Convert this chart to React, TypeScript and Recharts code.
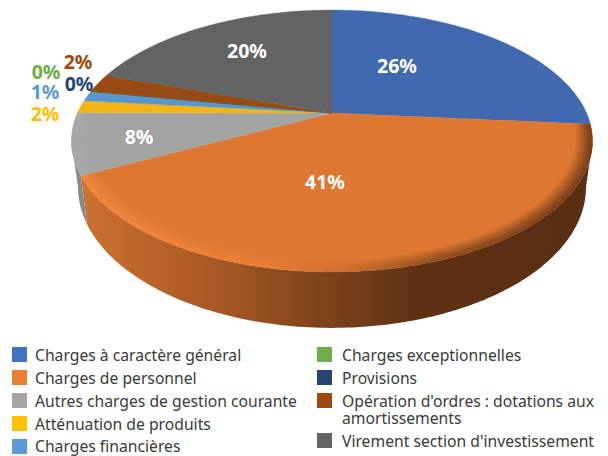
import React from 'react';
import { PieChart, Pie, Legend } from 'recharts';

const names = [
  'Charges à caractère général',
  'Charges de personnel',
  'Autres charges de gestion courante',
  'Atténuation de produits',
  'Charges financières',
  'Charges exceptionnelles',
  'Provisions',
  "Opération d'ordres : dotations aux amortissements",
  "Virement section d'investissement",
];
const values = [26.4, 41.1, 7.55, 1.55, 1.2, 0.05, 0.05, 2.3, 19.8];
const faceColors = ['#4169B0', '#DD7731', '#A3A3A3', '#F4B516', '#5797CE', '#6FAC46', '#264478', '#984A14', '#636363'];
const keyColors = ['#4472C4', '#ED7D31', '#A5A5A5', '#FFC000', '#5B9BD5', '#70AD47', '#264478', '#9E480E', '#636363'];
const labelColors = ['#fff', '#fff', '#fff', '#FFC000', '#5B9BD5', '#70AD47', '#264478', '#9E480E', '#fff'];

const data = names.map((name, i) => ({ name, value: values[i], fill: faceColors[i] }));

// spots for the percent labels, same order as names
const labelSpots = [[397, 65], [325, 181], [139, 136], [45, 113], [45, 91], [46, 71], [79, 83], [78, 61], [247, 50]];

const FONT = '"Noto Sans", sans-serif';
const PERSP = 0.2137;
const TILT = 0.491;
const DEPTH = 44;
const LOWER_SHRINK = 0.975;
// angles where the tilted rim is widest, the side wall stops there
const WALL_FROM = 102.3;
const WALL_TO = 257.7;

// fake 3D: tilted circle with some perspective, angle in degrees clockwise from the top
function project(cx: number, cy: number, r: number, a: number, drop = 0) {
  const rad = (a * Math.PI) / 180;
  const w = 1 + (PERSP * r * Math.cos(rad)) / 254.5;
  const sx = drop ? LOWER_SHRINK : 1;
  return [cx + (sx * r * Math.sin(rad)) / w, cy + (-r * TILT * Math.cos(rad) + drop) / w];
}

function arc(cx: number, cy: number, r: number, from: number, to: number, drop = 0) {
  const pts: string[] = [];
  const n = Math.max(1, Math.ceil(Math.abs(to - from)));
  for (let i = 0; i <= n; i++) {
    const p = project(cx, cy, r, from + ((to - from) * i) / n, drop);
    pts.push(p[0].toFixed(2) + ' ' + p[1].toFixed(2));
  }
  return pts;
}

function Slice(props: any) {
  const { cx, cy, outerRadius: R, startAngle, endAngle, fill, index } = props;
  const a1 = 90 - startAngle;
  const a2 = 90 - endAngle;
  const w1 = Math.max(a1, WALL_FROM);
  const w2 = Math.min(a2, WALL_TO);
  const f1 = Math.max(a1, 90);
  const f2 = Math.min(a2, 270);
  const isOrange = index === 1;
  // only the orange and light grey slices show a side wall
  const front = isOrange || index === 2;
  const rim = [0.94, 0.95, 0.96, 0.97, 0.98, 0.99];
  return (
    <g>
      {front && (
        <path
          d={'M' + arc(cx, cy, R, w1, w2).concat(arc(cx, cy, R, w2, w1, DEPTH)).join('L') + 'Z'}
          fill={isOrange ? 'url(#wallOrange)' : '#8A8A8A'}
        />
      )}
      <path
        d={'M' + cx + ' ' + cy + 'L' + arc(cx, cy, R, a1, a2).join('L') + 'Z'}
        fill={fill}
        stroke={fill}
        strokeWidth={0.4}
      />
      {front &&
        rim.map((t, i) => (
          <path
            key={t}
            d={'M' + arc(cx, cy, R * t, f1, f2).concat(arc(cx, cy, R, f2, f1)).join('L') + 'Z'}
            fill={isOrange ? 'url(#rimOrange)' : '#B4B4B4'}
            opacity={isOrange ? 0.12 + i * 0.04 : 0.1}
          />
        ))}
    </g>
  );
}

function PctLabel(props: any) {
  const { index, value } = props;
  const [x, y] = labelSpots[index];
  return (
    <text x={x} y={y} fill={labelColors[index]} fontFamily={FONT} fontSize={19.5} fontWeight={700} textAnchor="middle" dominantBaseline="central">
      {Math.round(value)}%
    </text>
  );
}

function KeyRow({ i, top, left }: { i: number; top: number; left: number }) {
  return (
    <div style={{ position: 'absolute', left, top, width: 290, display: 'flex' }}>
      <div style={{ width: 15, height: 15, marginTop: i === 4 ? 1 : 0, background: keyColors[i], flexShrink: 0 }} />
      <div style={{ marginLeft: i < 5 ? 8 : 10, fontSize: 15.7, lineHeight: '17px', color: '#3A3A3A', fontFamily: FONT, whiteSpace: i === 7 ? 'normal' : 'nowrap' }}>
        {names[i]}
      </div>
    </div>
  );
}

function KeyBlock() {
  return (
    <div style={{ position: 'absolute', left: 0, top: 0, width: 608, height: 456 }}>
      {[347, 370, 393, 416, 438].map((top, i) => <KeyRow key={i} i={i} top={top} left={12} />)}
      {[347, 370, 393, 433].map((top, i) => <KeyRow key={i} i={i + 5} top={top} left={317} />)}
    </div>
  );
}

export default function App() {
  return (
    <div style={{ position: 'absolute', left: 0, top: 0, width: 608, height: 456, background: '#fff', overflow: 'hidden' }}>
      <PieChart width={608} height={456} margin={{ top: 0, right: 0, bottom: 0, left: 0 }}>
        <defs>
          <linearGradient id="wallOrange" gradientUnits="userSpaceOnUse" x1={85} x2={590} y1={0} y2={0}>
            <stop offset="0" stopColor="#CB702F" />
            <stop offset="0.15" stopColor="#B86228" />
            <stop offset="0.3" stopColor="#A05522" />
            <stop offset="0.48" stopColor="#7C421A" />
            <stop offset="0.65" stopColor="#5F3114" />
            <stop offset="1" stopColor="#5A2E12" />
          </linearGradient>
          <linearGradient id="rimOrange" gradientUnits="userSpaceOnUse" x1={85} x2={590} y1={0} y2={0}>
            <stop offset="0" stopColor="#F58C45" />
            <stop offset="0.35" stopColor="#EE8038" />
            <stop offset="0.52" stopColor="#C46A2B" />
            <stop offset="0.7" stopColor="#7A4019" />
            <stop offset="1" stopColor="#5F3114" />
          </linearGradient>
        </defs>
        <Legend content={() => <KeyBlock />} wrapperStyle={{ left: 0, top: 0, bottom: 'auto', width: 608 }} />
        <Pie
          data={data}
          dataKey="value"
          nameKey="name"
          cx={332}
          cy={113}
          innerRadius={0}
          outerRadius={254.5}
          startAngle={90}
          endAngle={-270}
          stroke="none"
          shape={Slice}
          label={PctLabel}
          labelLine={false}
          isAnimationActive={false}
        />
      </PieChart>
    </div>
  );
}
